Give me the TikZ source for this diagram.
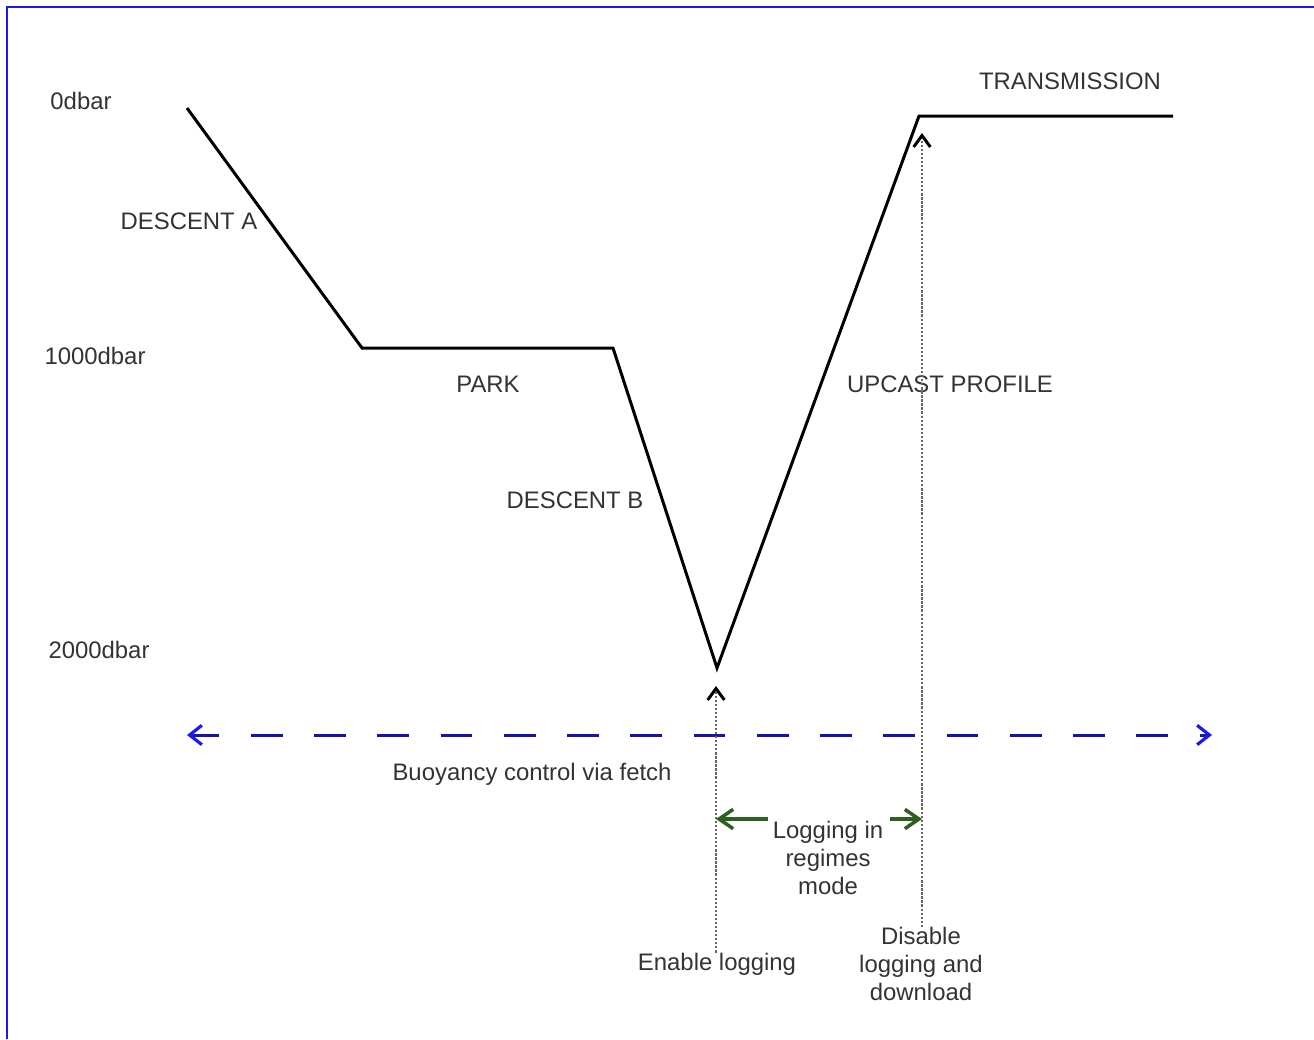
\documentclass[tikz,border=0pt]{standalone}
\usepackage{fontspec}
\setmainfont{Liberation Sans}
\usetikzlibrary{arrows.meta, positioning}
\tikzset{>=stealth}
\definecolor{fetchblue}{RGB}{20,20,170}
\definecolor{loggreen}{RGB}{45,95,30}
\definecolor{framblue}{RGB}{25,25,235}
\tikzset{
  lbl/.style={text=black!80, font=\fontsize{13.6}{15.9}\selectfont, inner sep=0pt, align=center},
  profile/.style={line width=1.7pt, line join=miter},
  tracer/.style={densely dotted, black!60, line width=1.3pt,
    -{Straight Barb[length=6.5pt,width=9.5pt,line width=1.7pt,color=black]}},
  fetch/.style={fetchblue, line width=1.7pt, dash pattern=on 18pt off 18pt, dash phase=2pt,
    {Straight Barb[length=7pt,width=11pt,line width=1.8pt,color=framblue]}-{Straight Barb[length=7pt,width=11pt,line width=1.8pt,color=framblue]}},
  logarrow/.style={loggreen, line width=1.8pt,
    -{Straight Barb[length=8pt,width=11pt,line width=2pt]}}
}

\begin{document}
\begin{tikzpicture}[x=0.02cm,y=-0.02cm]
        \useasboundingbox (0,0) rectangle (1314,1039);
        \draw [framblue, line width=1.2pt] (7,1039)--(7,7)--(1314,7);
        % depth profile
        \coordinate (surf) at (187,108);
        \coordinate (parkA) at (362,348);
        \coordinate (parkB) at (613,348);
        \coordinate (bottom) at (717,668);
        \coordinate (up) at (919,116);
        \coordinate (tx) at (1173,116);
        \draw [profile] (surf)--(parkA)--(parkB)--(bottom)--(up)--(tx);
        % depth labels
        \node [lbl] (dbar0) at (81,101) {0dbar};
        \node [lbl] (dbar1000) at (95,356) {1000dbar};
        \node [lbl] (dbar2000) at (99,650) {2000dbar};
        % phase labels
        \node [lbl] (descA) at (189,221) {DESCENT A};
        \node [lbl] (park) at (488,384) {PARK};
        \node [lbl] (descB) at (575,500) {DESCENT B};
        \node [lbl] (upcast) at (950,384) {UPCAST PROFILE};
        \node [lbl] (trans) at (1070,81) {TRANSMISSION};
        % buoyancy control
        \coordinate (fetchL) at (187,735);
        \coordinate (fetchR) at (1212,735);
        \draw [fetch] (fetchL)--(fetchR);
        \node [lbl] (fetch) at (532,774) {Buoyancy control via fetch};
        % logging events
        \node [lbl] (enable) at (717,964) {Enable logging};
        \node [lbl] (disable) at (921,964) {Disable\\logging and\\download};
        \coordinate (entip) at (716,686);
        \coordinate (distip) at (922,133);
        \draw [tracer] (enable.north -| entip)--(entip);
        \draw [tracer] (disable.north -| distip)--(distip);
        \node [lbl] (regimes) at (828,858) {Logging in\\regimes\\mode};
        \coordinate (logL) at (768,819);
        \coordinate (logR) at (890,819);
        \draw [logarrow] (logL)--(logL -| entip);
        \draw [logarrow] (logR)--(logR -| distip);
\end{tikzpicture}
\end{document}
